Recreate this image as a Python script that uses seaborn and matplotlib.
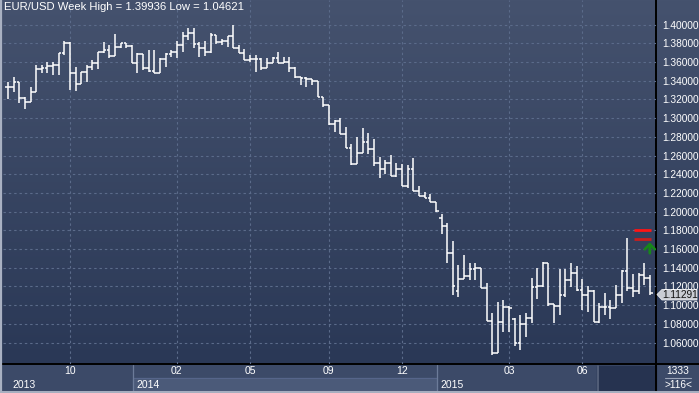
import numpy as np
import pandas as pd
import seaborn as sns
import matplotlib
matplotlib.use("Agg")
import matplotlib.pyplot as plt
from matplotlib.colors import LinearSegmentedColormap
from matplotlib.patches import Rectangle, Polygon

# ---------------- data (weekly EUR/USD OHLC) ----------------
opens = [1.3337, 1.3330, 1.3390, 1.3219, 1.3176, 1.3283, 1.3523, 1.3533, 1.3558, 1.3569,
         1.3694, 1.3801, 1.3486, 1.3366, 1.3497, 1.3551, 1.3587, 1.3705, 1.3729, 1.3668,
         1.3758, 1.3807, 1.3775, 1.3587, 1.3683, 1.3533, 1.3508, 1.3480, 1.3630, 1.3687,
         1.3711, 1.3783, 1.3879, 1.3908, 1.3794, 1.3747, 1.3705, 1.3890, 1.3812, 1.3829,
         1.3879, 1.3747, 1.3700, 1.3622, 1.3630, 1.3630, 1.3533, 1.3593, 1.3640, 1.3593,
         1.3604, 1.3533, 1.3437, 1.3427, 1.3416, 1.3398, 1.3223, 1.3141, 1.2938, 1.2973,
         1.2827, 1.2678, 1.2506, 1.2624, 1.2748, 1.2670, 1.2523, 1.2453, 1.2523, 1.2381,
         1.2453, 1.2274, 1.2453, 1.2224, 1.2167, 1.2143, 1.2100, 1.1929, 1.1846, 1.1554,
         1.1154, 1.1276, 1.1311, 1.1383, 1.1394, 1.1180, 1.0833, 1.0491, 1.0822, 1.0976,
         1.0850, 1.0591, 1.0798, 1.0859, 1.1190, 1.1204, 1.1453, 1.1012, 1.0990, 1.1108,
         1.1268, 1.1340, 1.1161, 1.1108, 1.1154, 1.0822, 1.0976, 1.0976, 1.0966, 1.1108,
         1.1368, 1.1180, 1.1154, 1.1322, 1.1287]
highs = [1.3390, 1.3444, 1.3390, 1.3230, 1.3330, 1.3569, 1.3569, 1.3604, 1.3604, 1.3694,
         1.3829, 1.3818, 1.3544, 1.3497, 1.3569, 1.3622, 1.3711, 1.3812, 1.3783, 1.3900,
         1.3807, 1.3807, 1.3783, 1.3694, 1.3687, 1.3729, 1.3729, 1.3640, 1.3694, 1.3729,
         1.3829, 1.3925, 1.3961, 1.3961, 1.3818, 1.3829, 1.3908, 1.3890, 1.3844, 1.3879,
         1.39936, 1.3783, 1.3737, 1.3676, 1.3676, 1.3640, 1.3640, 1.3658, 1.3705, 1.3651,
         1.3651, 1.3551, 1.3444, 1.3444, 1.3416, 1.3398, 1.3223, 1.3141, 1.2980, 1.2998,
         1.2902, 1.2724, 1.2795, 1.2892, 1.2838, 1.2774, 1.2581, 1.2552, 1.2606, 1.2523,
         1.2510, 1.2499, 1.2571, 1.2274, 1.2213, 1.2189, 1.2106, 1.1975, 1.1881, 1.1689,
         1.1429, 1.1536, 1.1447, 1.1447, 1.1394, 1.1240, 1.0912, 1.1036, 1.1054, 1.0990,
         1.0859, 1.0894, 1.0912, 1.1287, 1.1394, 1.1464, 1.1453, 1.1012, 1.1383, 1.1383,
         1.1447, 1.1418, 1.1276, 1.1204, 1.1160, 1.1019, 1.1126, 1.1054, 1.1215, 1.1375,
         1.1715, 1.1333, 1.1347, 1.1453, 1.1322]
lows = [1.3202, 1.3283, 1.3165, 1.3098, 1.3176, 1.3283, 1.3480, 1.3480, 1.3462, 1.3462,
        1.3676, 1.3301, 1.3294, 1.3366, 1.3390, 1.3515, 1.3523, 1.3694, 1.3640, 1.3665,
        1.3747, 1.3747, 1.3587, 1.3480, 1.3515, 1.3497, 1.3480, 1.3480, 1.3551, 1.3658,
        1.3640, 1.3711, 1.3836, 1.3747, 1.3658, 1.3665, 1.3694, 1.3794, 1.3783, 1.3765,
        1.3747, 1.3700, 1.3622, 1.3604, 1.3497, 1.3515, 1.3533, 1.3587, 1.3587, 1.3587,
        1.3497, 1.3427, 1.3355, 1.3337, 1.3355, 1.3223, 1.3123, 1.2927, 1.2855, 1.2827,
        1.2678, 1.2499, 1.2506, 1.2624, 1.2617, 1.2488, 1.2357, 1.2403, 1.2381, 1.2367,
        1.2274, 1.2250, 1.2224, 1.2167, 1.2143, 1.2100, 1.1999, 1.1761, 1.1454, 1.1108,
        1.1090, 1.1276, 1.1268, 1.1268, 1.1180, 1.0833, 1.04621, 1.0484, 1.0715, 1.0709,
        1.0566, 1.0520, 1.0655, 1.0812, 1.1062, 1.1190, 1.0990, 1.0812, 1.0894, 1.1090,
        1.1190, 1.1154, 1.0947, 1.0929, 1.0822, 1.0805, 1.0894, 1.0848, 1.0966, 1.1019,
        1.1154, 1.1083, 1.1119, 1.1215, 1.1108]
closes = [1.3330, 1.3390, 1.3219, 1.3176, 1.3283, 1.3523, 1.3533, 1.3558, 1.3569, 1.3694,
          1.3801, 1.3486, 1.3366, 1.3497, 1.3551, 1.3587, 1.3705, 1.3729, 1.3668, 1.3758,
          1.3807, 1.3775, 1.3587, 1.3683, 1.3533, 1.3508, 1.3480, 1.3630, 1.3687, 1.3711,
          1.3783, 1.3879, 1.3908, 1.3794, 1.3747, 1.3705, 1.3890, 1.3812, 1.3829, 1.3879,
          1.3747, 1.3700, 1.3622, 1.3630, 1.3630, 1.3533, 1.3593, 1.3640, 1.3593, 1.3604,
          1.3533, 1.3437, 1.3427, 1.3416, 1.3398, 1.3223, 1.3141, 1.2938, 1.2973, 1.2827,
          1.2678, 1.2506, 1.2624, 1.2748, 1.2670, 1.2523, 1.2453, 1.2523, 1.2381, 1.2453,
          1.2274, 1.2453, 1.2224, 1.2167, 1.2143, 1.2100, 1.2007, 1.1846, 1.1554, 1.1204,
          1.1276, 1.1311, 1.1383, 1.1394, 1.1180, 1.0833, 1.0491, 1.0822, 1.0976, 1.0966,
          1.0591, 1.0798, 1.0859, 1.1190, 1.1204, 1.1453, 1.1012, 1.0990, 1.1108, 1.1268,
          1.1340, 1.1161, 1.1108, 1.1154, 1.0822, 1.0976, 1.0976, 1.0966, 1.1108, 1.1368,
          1.1180, 1.1154, 1.1322, 1.1287, 1.11291]

month_ticks = [11, 30, 43, 57, 70, 89, 102]          # bar index of month start
month_labels = ["10", "02", "05", "09", "12", "03", "06"]
year_labels = ["2013", "2014", "2015"]
price_ticks = [1.06, 1.08, 1.10, 1.12, 1.14, 1.16, 1.18, 1.20, 1.22, 1.24,
               1.26, 1.28, 1.30, 1.32, 1.34, 1.36, 1.38, 1.40]
title = "EUR/USD Week High = 1.39936 Low = 1.04621"
last_price = "1.11291"
level_lines = [1.1800, 1.1704]
signal_arrow = (1.1555, 1.1672)

df = pd.DataFrame({"open": opens, "high": highs, "low": lows, "close": closes})
df["idx"] = np.arange(len(df))

# ---------------- figure setup ----------------
W, H = 699, 393
sns.set_theme(style="dark")
plt.rcParams["font.family"] = ["Liberation Sans", "DejaVu Sans"]

fig = plt.figure(figsize=(W / 100, H / 100), dpi=100)

# background (pixel coordinates)
bg = fig.add_axes([0, 0, 1, 1], zorder=0)
bg.set_xlim(0, W)
bg.set_ylim(H, 0)
bg.axis("off")
cmap = LinearSegmentedColormap.from_list("bgc", ["#45526e", "#2a3856"])
grad = np.linspace(0, 1, 256).reshape(-1, 1)
bg.imshow(grad, extent=[0, W, 364, 0], aspect="auto", cmap=cmap, zorder=0)

# bottom strip
bg.add_patch(Rectangle((0, 364), W, 29, color="#3c4a68", zorder=1))
bg.add_patch(Rectangle((133, 378), 304, 13, color="#4b5a79", zorder=2))
bg.plot([133, 437], [378, 378], color="#56658a", lw=0.8, zorder=3)
bg.plot([133, 133], [365, 391], color="#6c7b99", lw=0.9, zorder=3)
bg.plot([437, 437], [365, 391], color="#6c7b99", lw=0.9, zorder=3)
bg.add_patch(Rectangle((597, 366), 59, 25, color="#263350", zorder=3))
bg.plot([597.5, 597.5], [366, 391], color="#5a6680", lw=1.2, zorder=4)

bg.text(12, 385, year_labels[0], color="white", fontsize=7.5, va="center", ha="left", zorder=5)
bg.text(136, 385, year_labels[1], color="white", fontsize=7.5, va="center", ha="left", zorder=5)
bg.text(440, 385, year_labels[2], color="white", fontsize=7.5, va="center", ha="left", zorder=5)

# lower right panel
bg.text(678, 371, "1333", color="white", fontsize=7.3, va="center", ha="center", zorder=5)
bg.plot([665, 691], [378, 378], color="#9aa4b8", lw=0.8, zorder=5)
bg.text(678, 385.5, ">116<", color="white", fontsize=7.3, va="center", ha="center", zorder=5)

# frame lines
bg.plot([0, W], [364, 364], color="black", lw=1.4, zorder=6)
bg.plot([656, 656], [0, 392], color="black", lw=1.4, zorder=6)
bg.plot([1, 1], [0, H], color="#a9b1c2", lw=1.6, zorder=6)
bg.plot([0, W], [392.3, 392.3], color="#a9b1c2", lw=1.4, zorder=6)

# price tag (covers the lower part of the 1.12000 label, as in the reference)
bg.add_patch(Polygon([(657, 294.5), (662, 289.5), (697, 289.5), (697, 300), (662, 300)],
                     closed=True, facecolor="#c9ccd3", edgecolor="#e6e8ec", lw=0.6, zorder=7))
bg.text(680, 295, last_price, color="#111111", fontsize=7.3, va="center", ha="center", zorder=8)

# ---------------- main price axes ----------------
ax = fig.add_axes([3 / W, 29 / H, 653 / W, 364 / H], zorder=1)
ax.set_facecolor("none")
for s in ax.spines.values():
    s.set_visible(False)

ax.set_xlim(-0.888, 115.1)
ax.set_ylim(1.0370, 1.4264)

ax.set_yticks(price_ticks)
ax.set_yticklabels([f"{v:.5f}" for v in price_ticks])
ax.yaxis.tick_right()
ax.tick_params(axis="y", length=0, pad=4.5, labelcolor="white", labelsize=7.3)

ax.set_xticks(month_ticks)
ax.set_xticklabels(month_labels)
ax.tick_params(axis="x", length=0, pad=1.8, labelcolor="white", labelsize=7.5)

ax.grid(True, color="#5b6b8a", lw=0.8, linestyle=(0, (2.2, 2.6)))
ax.set_axisbelow(True)

# OHLC bars
tick = 0.48
lw = 1.1
ax.vlines(df["idx"], df["low"], df["high"], color="white", lw=lw, zorder=3)
ax.hlines(df["open"], df["idx"] - tick, df["idx"], color="white", lw=lw, zorder=3)
ax.hlines(df["close"], df["idx"], df["idx"] + tick, color="white", lw=lw, zorder=3)

# red levels and green signal arrow
ax.hlines(level_lines[0], 111.2, 114.2, color="#ff1414", lw=2.0, zorder=4)
ax.hlines(level_lines[1], 111.2, 114.2, color="#c81e1e", lw=2.0, zorder=4)
ax.annotate("", xy=(114, signal_arrow[1]), xytext=(114, signal_arrow[0]),
            arrowprops=dict(arrowstyle="->,head_width=0.3,head_length=0.3",
                            color="#17861a", lw=2.0, shrinkA=0, shrinkB=0), zorder=5)

ax.text(1.5 / 653, 1 - 7.5 / 364, title, color="white", fontsize=8.1, va="center", ha="left",
        transform=ax.transAxes, zorder=6)
ax.set_xlabel("")
ax.set_ylabel("")

fig.savefig("out.png", dpi=100)
